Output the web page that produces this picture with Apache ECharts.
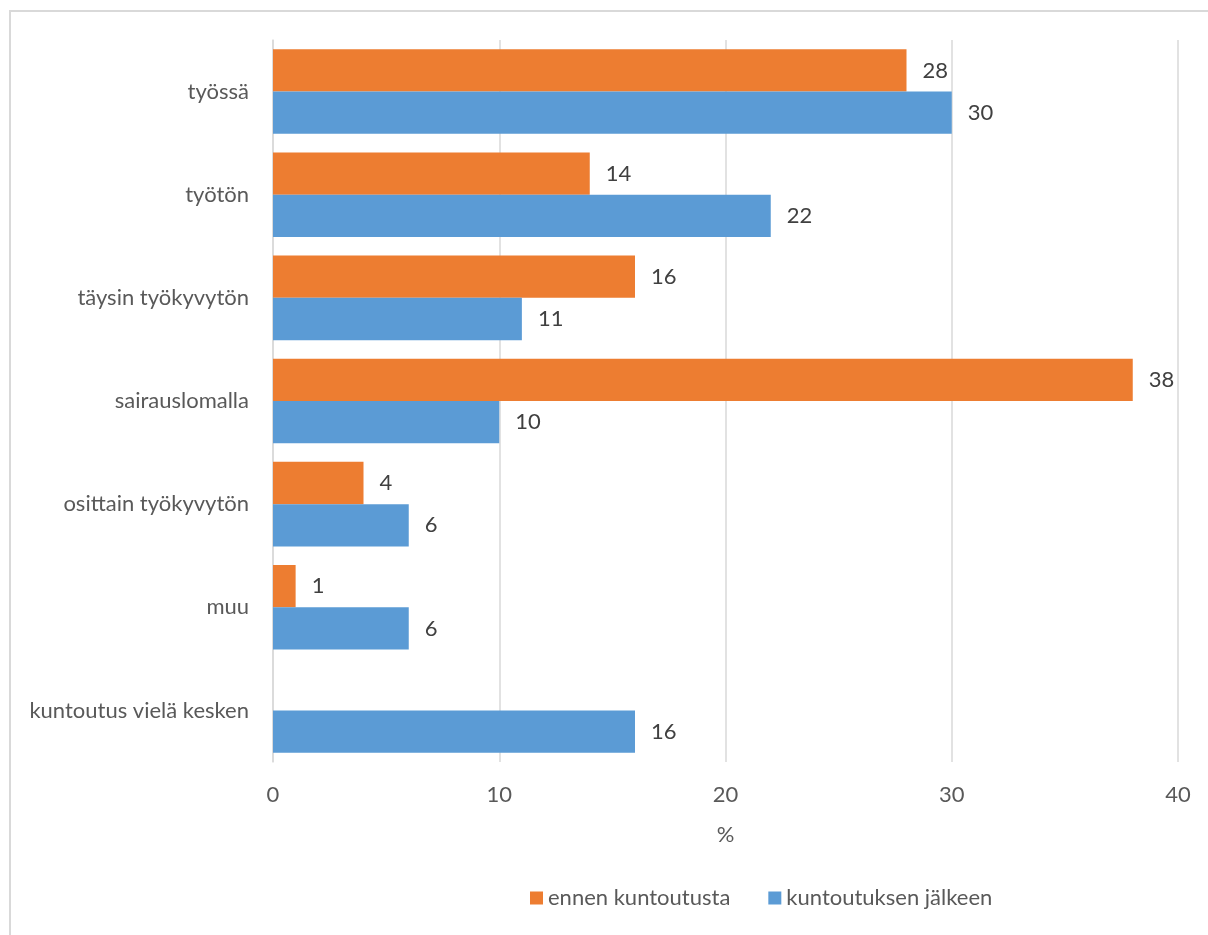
<!DOCTYPE html>
<html>
<head>
<meta charset="utf-8">
<style>
  html, body { margin: 0; padding: 0; background: #fff; }
  #chart { width: 1208px; height: 935px; }
</style>
<script src="https://cdn.jsdelivr.net/npm/echarts@6/dist/echarts.min.js"></script>
</head>
<body>
<div id="chart"></div>
<script>
// Työmarkkina-asema ennen ja jälkeen kuntoutuksen (%)
const categories = ['työssä', 'työtön', 'täysin työkyvytön', 'sairauslomalla', 'osittain työkyvytön', 'muu', 'kuntoutus vielä kesken'];
const ennenKuntoutusta = [28, 14, 16, 38, 4, 1, null];
const kuntoutuksenJalkeen = [30, 22, 11, 10, 6, 6, 16];
const xTicks = [0, 10, 20, 30, 40];
const seriesNames = ['ennen kuntoutusta', 'kuntoutuksen jälkeen'];

const FONT = 'Lato, "Open Sans", "Noto Sans", sans-serif';
const TEXT = '#595959';
const SIZE = 22;

const chart = echarts.init(document.getElementById('chart'), null, { renderer: 'canvas' });

const label = {
  show: true,
  position: 'right',
  distance: 16,
  color: '#404040',
  fontFamily: FONT,
  fontSize: SIZE
};

chart.setOption({
  animation: false,
  backgroundColor: '#fff',
  textStyle: { fontFamily: FONT },
  graphic: [{
    type: 'rect',
    shape: { x: 10, y: 11, width: 1400, height: 1200 },
    style: { fill: 'none', stroke: '#D9D9D9', lineWidth: 2 },
    silent: true
  }],
  grid: { left: 273, right: 30, top: 40, bottom: 173, containLabel: false },
  legend: {
    top: 882,
    left: 525,
    itemWidth: 13,
    itemHeight: 13,
    itemGap: 38,
    icon: 'rect',
    textStyle: { color: TEXT, fontSize: 22, fontFamily: FONT },
    data: seriesNames
  },
  xAxis: {
    type: 'value',
    min: xTicks[0],
    max: xTicks[xTicks.length - 1],
    interval: 10,
    name: '%',
    nameLocation: 'middle',
    nameGap: 62,
    nameTextStyle: { color: TEXT, fontSize: SIZE, fontFamily: FONT },
    axisLine: { show: false },
    axisTick: { show: false },
    axisLabel: { color: TEXT, fontSize: SIZE, fontFamily: FONT, margin: 22 },
    splitLine: { show: true, lineStyle: { color: '#D9D9D9', width: 1.5 } }
  },
  yAxis: {
    type: 'category',
    inverse: true,
    data: categories,
    axisLine: { show: true, lineStyle: { color: '#D9D9D9', width: 1.5 } },
    axisTick: { show: false },
    axisLabel: { color: TEXT, fontSize: SIZE, fontFamily: FONT, margin: 24 }
  },
  series: [
    {
      name: seriesNames[0],
      type: 'bar',
      data: ennenKuntoutusta,
      barGap: '0%',
      barCategoryGap: '18%',
      itemStyle: { color: '#ED7D31' },
      label: label
    },
    {
      name: seriesNames[1],
      type: 'bar',
      data: kuntoutuksenJalkeen,
      barGap: '0%',
      barCategoryGap: '18%',
      itemStyle: { color: '#5B9BD5' },
      label: label
    }
  ]
});
</script>
</body>
</html>
